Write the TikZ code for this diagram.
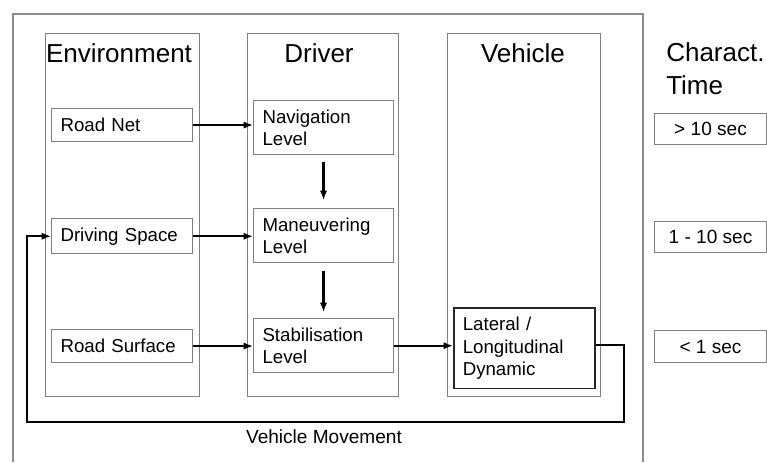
\documentclass[tikz,border=0pt]{standalone}
\usepackage{fontspec}
\setmainfont{Liberation Sans}
\usetikzlibrary{arrows.meta}
\newlength\px
\setlength\px{0.75pt}

\tikzset{
	column/.style={draw=black!50, line width=0.8pt, anchor=north west, inner sep=0pt},
	box/.style={draw=black!50, line width=0.8pt, anchor=north west, inner sep=9\px,
		align=left, font=\fontsize{14}{17}\selectfont},
	timebox/.style={draw=black!50, line width=0.8pt, anchor=north west, inner sep=0pt,
		align=center, font=\fontsize{14.3}{17}\selectfont},
	title/.style={font=\fontsize{19.5}{23}\selectfont},
	flow/.style={line width=1.6pt, -{Latex[length=7pt,width=5.5pt]}}
}

\begin{document}
\begin{tikzpicture}[x=\px, y=-\px]
		\useasboundingbox (0, 0) rectangle (767, 462);
		\draw[black!45, line width=0.8pt] (13, 462) -- (13, 14) -- (643, 14) -- (643, 462);
		
		% the three columns
		\node[column, minimum width=154\px, minimum height=363\px] (env) at (45, 33) {};
		\node[column, minimum width=151\px, minimum height=363\px] (drv) at (247, 33) {};
		\node[column, minimum width=153\px, minimum height=363\px] (veh) at (447, 33) {};
		\node[title] (envtitle) at (119, 53) {Environment};
		\node[title] (drvtitle) at (319, 53) {Driver};
		\node[title] (vehtitle) at (523, 53) {Vehicle};
		\node[title, anchor=north west, align=left, inner sep=0pt] (chartitle) at (666, 42)
			{Charact.\\[2pt] Time};
		
		% environment
		\node[box, text width=123\px, minimum height=33\px] (roadnet) at (51, 108) {Road Net};
		\node[box, text width=123\px, minimum height=32\px] (drivspace) at (51, 218) {Driving Space};
		\node[box, text width=123\px, minimum height=33\px] (roadsurf) at (51, 329) {Road Surface};
		
		% driver
		\node[box, text width=122\px, minimum height=54\px] (nav) at (253, 100) {Navigation\\Level};
		\node[box, text width=122\px, minimum height=54\px] (man) at (253, 208) {Maneuvering\\Level};
		\node[box, text width=122\px, minimum height=54\px] (stab) at (253, 318) {Stabilisation\\Level};
		
		% vehicle
		\node[box, draw=black!85, line width=1.2pt, text width=123\px, minimum height=78\px] (lat)
			at (453, 307) {Lateral /\\Longitudinal\\Dynamic};
		
		% characteristic times
		\node[timebox, minimum width=112\px, minimum height=31\px] (slow) at (654, 113) {> 10 sec};
		\node[timebox, minimum width=112\px, minimum height=31\px] (mid) at (654, 221) {1 - 10 sec};
		\node[timebox, minimum width=112\px, minimum height=32\px] (fast) at (654, 330) {< 1 sec};
		
		\draw[flow] (roadnet) -- (roadnet -| nav.west);
		\draw[flow] (drivspace) -- (drivspace -| man.west);
		\draw[flow] (roadsurf) -- (roadsurf -| stab.west);
		\draw[flow] (stab) -- (stab -| lat.west);
		\draw[flow] ([yshift=-7\px]nav.south) -- ([yshift=8\px]man.north);
		\draw[flow] ([yshift=-8\px]man.south) -- ([yshift=6\px]stab.north);
		
		% feedback
		\coordinate (loopr) at (624, 422);
		\coordinate (loopl) at (27, 422);
		\draw[flow] ([yshift=3\px]lat.east) -| (loopr) -- (loopl) |- (drivspace.west);
		\node[font=\fontsize{14.3}{17}\selectfont] (move) at (324, 437) {Vehicle Movement};
\end{tikzpicture}
\end{document}
